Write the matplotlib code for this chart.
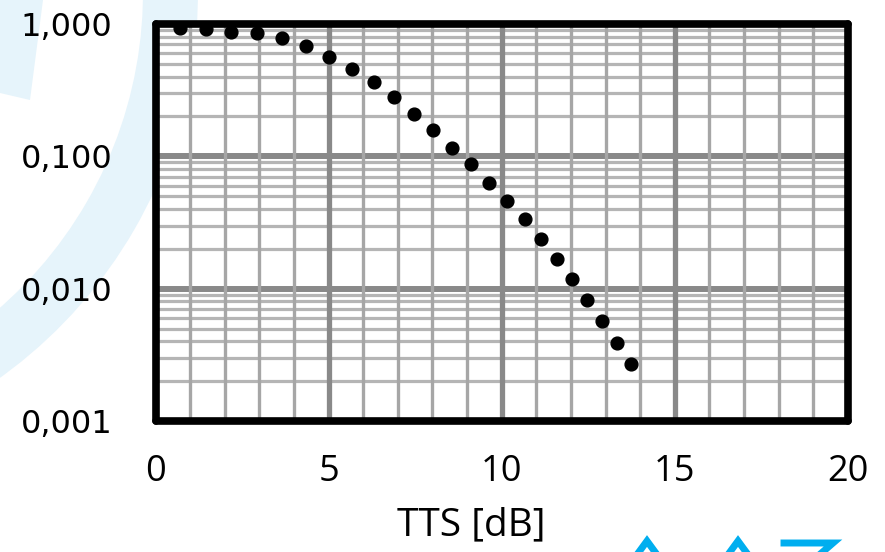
import numpy as np
import matplotlib
matplotlib.use("Agg")
import matplotlib.pyplot as plt
from matplotlib.patches import Wedge, Polygon
from matplotlib.lines import Line2D
from matplotlib.transforms import Affine2D

# TTS [dB] vs. probability
tts = [0.71, 1.45, 2.18, 2.92, 3.64, 4.34, 5.02, 5.67, 6.30, 6.88, 7.46, 8.02,
       8.57, 9.12, 9.63, 10.14, 10.66, 11.12, 11.59, 12.04, 12.46, 12.90, 13.32, 13.73]
prob = [0.93, 0.91, 0.875, 0.85, 0.78, 0.686, 0.567, 0.456, 0.362, 0.279, 0.209, 0.158,
        0.116, 0.0874, 0.0633, 0.0463, 0.0334, 0.0239, 0.0167, 0.0118, 0.0082, 0.0057,
        0.0039, 0.0027]

x_ticks = [0, 5, 10, 15, 20]
y_ticks = [0.001, 0.01, 0.1, 1.0]
y_labels = ["0,001", "0,010", "0,100", "1,000"]
xlabel = "TTS [dB]"

W, H = 885, 552
fig = plt.figure(figsize=(W / 100, H / 100), dpi=100)
fig.patch.set_facecolor("white")

# pixel coords, origin top-left
px = Affine2D().scale(1 / W, -1 / H).translate(0, 1) + fig.transFigure

# faint watermark behind the chart
wm = "#e6f4fb"
fig.patches.append(Wedge((-277, -8), 475, -15, 75, width=55, transform=px,
                         facecolor=wm, edgecolor="none", zorder=-2))
fig.patches.append(Polygon([(0, 0), (43, 0), (30, 100), (0, 93)], closed=True,
                           transform=px, facecolor=wm, edgecolor="none", zorder=-2))
logo = "#00aeef"
for pts in ([(636, 556), (647, 541), (658, 556)],
            [(727, 556), (738, 541), (749, 556)],
            [(784, 543), (833, 543), (818, 556)]):
    xs, ys = zip(*pts)
    fig.lines.append(Line2D(xs, ys, transform=px, color=logo, lw=5,
                            solid_joinstyle="miter", zorder=-1))

ax = fig.add_axes([155.5 / W, 1 - 421 / H, (848 - 155.5) / W, (421 - 24) / H])
ax.set_yscale("log")
ax.set_xlim(0, 20)
ax.set_ylim(0.001, 1.0)
ax.set_facecolor("white")

# grid: horizontal under vertical, minors under majors
for dec in [0.001, 0.01, 0.1]:
    for k in range(2, 10):
        ax.axhline(dec * k, color="#b5b5b5", lw=2.3, zorder=1)
for v in y_ticks[1:-1]:
    ax.axhline(v, color="#898989", lw=4.3, zorder=1.5)
for v in range(1, 20):
    if v % 5:
        ax.axvline(v, color="#a6a6a6", lw=2.4, zorder=2)
for v in x_ticks[1:-1]:
    ax.axvline(v, color="#898989", lw=3.8, zorder=2.5)

ax.plot(tts, prob, "o", color="black", ms=9.2, zorder=5)

ax.set_xticks(x_ticks)
ax.set_xticklabels([str(t) for t in x_ticks], family="Open Sans", fontsize=26)
ax.set_yticks(y_ticks)
ax.set_yticklabels(y_labels, family="DejaVu Sans", fontsize=23)
ax.yaxis.set_minor_locator(matplotlib.ticker.NullLocator())
ax.tick_params(axis="x", length=0, pad=24)
ax.tick_params(axis="y", length=0, pad=31)
ax.set_xlabel(xlabel, family="Open Sans", fontsize=28)
ax.xaxis.set_label_coords(0.456, -0.215)

for s in ax.spines.values():
    s.set_linewidth(5.5)
    s.set_color("black")
    s.set_capstyle("round")
    s.set_zorder(6)

fig.savefig("out.png", dpi=100)
